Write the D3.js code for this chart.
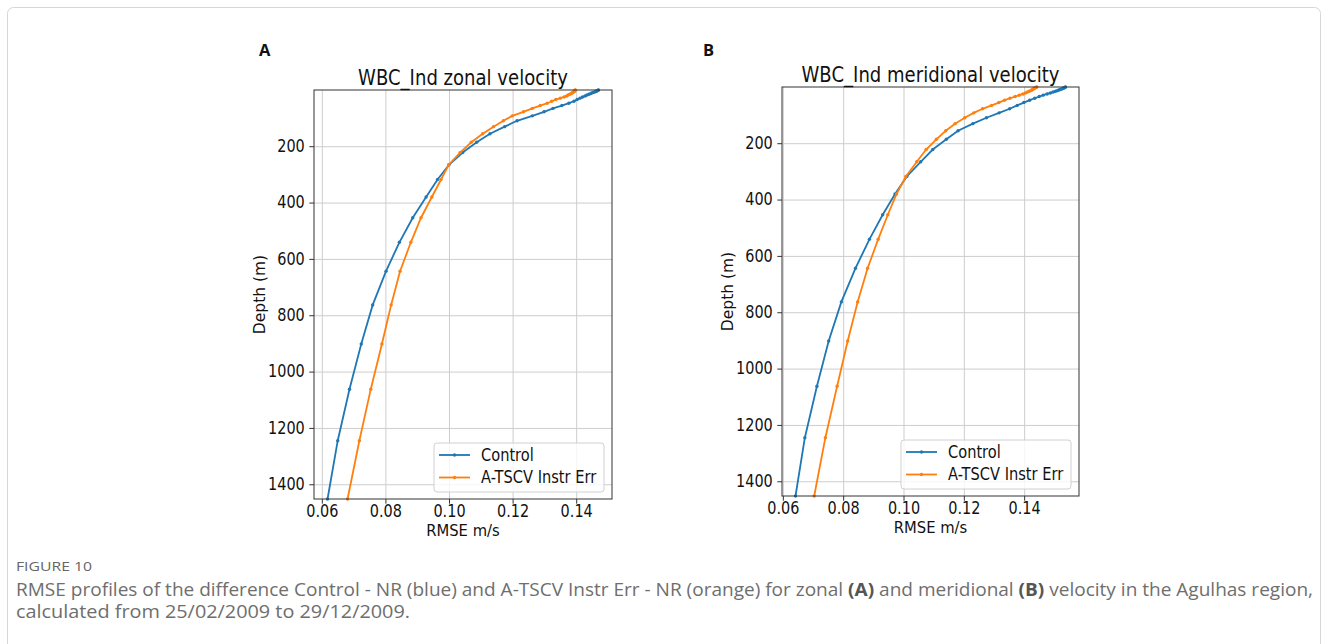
<!DOCTYPE html>
<html>
<head>
<meta charset="utf-8">
<script src="https://cdn.jsdelivr.net/npm/d3@7"></script>
<style>
  body { margin: 0; background: #fff; }
  svg { display: block; }
  .tick text { font-family: "DejaVu Sans", sans-serif; font-size: 16.8px; fill: #111; }
  .sq { transform-box: fill-box; transform: scaleX(0.86); }
  .sq-lab { transform-box: fill-box; transform: scaleX(0.925); transform-origin: center; }
  .sq-mid { transform-origin: center; }
  .sq-end { transform-origin: right; }
  .sq-start { transform-origin: left; }
</style>
</head>
<body>
<div id="chart"></div>
<script>
const SVG_W = 1328;
const SVG_H = 644;

// model levels (m)
const depths = [0.494, 1.541, 2.646, 3.819, 5.078, 6.441, 7.930, 9.573, 11.405, 13.467,
  15.810, 18.496, 21.599, 25.211, 29.445, 34.434, 40.344, 47.374, 55.764, 65.807,
  77.854, 92.326, 109.729, 130.666, 155.851, 186.126, 222.475, 266.040, 318.127, 380.213,
  453.938, 541.089, 643.567, 763.333, 902.339, 1062.440, 1245.291, 1452.251];

// RMSE zonal velocity (m/s)
const zonalControl = [0.1470, 0.1469, 0.1467, 0.1465, 0.1463, 0.1460, 0.1457, 0.1453, 0.1449, 0.1445,
  0.1440, 0.1434, 0.1428, 0.1420, 0.1412, 0.1403, 0.1393, 0.1377, 0.1355, 0.1327,
  0.1299, 0.1262, 0.1214, 0.1175, 0.1129, 0.1087, 0.1043, 0.1000, 0.0964, 0.0928,
  0.0886, 0.0844, 0.0802, 0.0760, 0.0724, 0.0687, 0.0650, 0.0618];
const zonalInstr = [0.1397, 0.1397, 0.1396, 0.1395, 0.1394, 0.1393, 0.1391, 0.1389, 0.1387, 0.1384,
  0.1380, 0.1375, 0.1370, 0.1362, 0.1350, 0.1336, 0.1323, 0.1309, 0.1287, 0.1262,
  0.1234, 0.1199, 0.1171, 0.1140, 0.1106, 0.1070, 0.1035, 0.0999, 0.0975, 0.0946,
  0.0912, 0.0880, 0.0846, 0.0818, 0.0789, 0.0754, 0.0718, 0.0681];

// RMSE meridional velocity (m/s)
const merControl = [0.1537, 0.1536, 0.1534, 0.1532, 0.1529, 0.1526, 0.1523, 0.1519, 0.1515, 0.1510,
  0.1504, 0.1496, 0.1487, 0.1476, 0.1463, 0.1450, 0.1435, 0.1418, 0.1399, 0.1377,
  0.1352, 0.1317, 0.1275, 0.1230, 0.1181, 0.1142, 0.1097, 0.1057, 0.1011, 0.0972,
  0.0931, 0.0887, 0.0841, 0.0794, 0.0752, 0.0713, 0.0673, 0.0642];
const merInstr = [0.1442, 0.1440, 0.1438, 0.1436, 0.1434, 0.1432, 0.1430, 0.1428, 0.1425, 0.1422,
  0.1417, 0.1411, 0.1404, 0.1396, 0.1384, 0.1370, 0.1353, 0.1335, 0.1316, 0.1292,
  0.1262, 0.1233, 0.1203, 0.1171, 0.1140, 0.1109, 0.1075, 0.1044, 0.1008, 0.0977,
  0.0948, 0.0916, 0.0881, 0.0848, 0.0815, 0.0780, 0.0741, 0.0704];

const seriesNames = ["Control", "A-TSCV Instr Err"];
const seriesColors = ["#1f77b4", "#ff7f0e"];
const xTickValues = [0.06, 0.08, 0.10, 0.12, 0.14];
const yTickValues = [200, 400, 600, 800, 1000, 1200, 1400];

const TICK = 4.7;
const FONT = '"DejaVu Sans", sans-serif';

var svg = d3.select("#chart").append("svg")
  .attr("width", SVG_W)
  .attr("height", SVG_H);

// page frame
svg.append("rect")
  .attr("x", 7.5).attr("y", 7.5)
  .attr("width", SVG_W - 15).attr("height", SVG_H + 20)
  .attr("rx", 6)
  .attr("fill", "none")
  .attr("stroke", "#d6d6d6");

var drawPanel = (p) => {
  var all = p.series[0].concat(p.series[1]);
  var lo = d3.min(all), hi = d3.max(all), pad = (hi - lo) * 0.05;

  var x = d3.scaleLinear().domain([lo - pad, hi + pad]).range([0, p.w]);
  var y = d3.scaleLinear().domain(d3.extent(depths)).range([0, p.h]);

  var g = svg.append("g").attr("transform", `translate(${p.x},${p.y})`);

  // grid
  g.append("g")
    .call(d3.axisBottom(x).tickValues(xTickValues).tickSize(p.h).tickFormat(""))
    .call(a => a.select(".domain").remove())
    .selectAll("line").attr("stroke", "#cdcdcd").attr("stroke-width", 1);
  g.append("g")
    .call(d3.axisRight(y).tickValues(yTickValues).tickSize(p.w).tickFormat(""))
    .call(a => a.select(".domain").remove())
    .selectAll("line").attr("stroke", "#cdcdcd").attr("stroke-width", 1);

  // axes
  var xa = g.append("g")
    .attr("transform", `translate(0,${p.h})`)
    .call(d3.axisBottom(x).tickValues(xTickValues).tickSize(TICK).tickPadding(1.5).tickFormat(d3.format(".2f")));
  var ya = g.append("g")
    .call(d3.axisLeft(y).tickValues(yTickValues).tickSize(TICK).tickPadding(4.5).tickFormat(d3.format("d")));
  [xa, ya].forEach(a => {
    a.select(".domain").remove();
    a.selectAll("line").attr("stroke", "#333");
  });
  xa.selectAll("text").attr("class", "sq sq-mid");
  ya.selectAll("text").attr("class", "sq sq-end");

  // series
  var line = d3.line().x(d => x(d[0])).y(d => y(d[1]));
  p.series.forEach((vals, i) => {
    var pts = vals.map((v, k) => [v, depths[k]]);
    g.append("path")
      .datum(pts)
      .attr("d", line)
      .attr("fill", "none")
      .attr("stroke", seriesColors[i])
      .attr("stroke-width", 1.8);
    g.selectAll(null)
      .data(pts)
      .enter()
      .append("circle")
      .attr("cx", d => x(d[0]))
      .attr("cy", d => y(d[1]))
      .attr("r", 1.7)
      .attr("fill", seriesColors[i]);
  });

  // spines
  g.append("rect")
    .attr("width", p.w).attr("height", p.h)
    .attr("fill", "none")
    .attr("stroke", "#333")
    .attr("stroke-width", 1);

  // legend
  var LW = 170, LH = 49;
  var lg = g.append("g").attr("transform", `translate(${p.w - 8 - LW},${p.h - 7 - LH})`);
  lg.append("rect")
    .attr("width", LW).attr("height", LH)
    .attr("rx", 3)
    .attr("fill", "#fff").attr("fill-opacity", 0.8)
    .attr("stroke", "#d0d0d0");
  seriesNames.forEach((name, i) => {
    var ry = 12 + i * 22.5;
    lg.append("line")
      .attr("x1", 5).attr("x2", 36)
      .attr("y1", ry).attr("y2", ry)
      .attr("stroke", seriesColors[i]).attr("stroke-width", 1.8);
    lg.append("circle")
      .attr("cx", 20.5).attr("cy", ry).attr("r", 1.7)
      .attr("fill", seriesColors[i]);
    lg.append("text")
      .text(name)
      .attr("class", "sq sq-start")
      .attr("x", 47).attr("y", ry + 6)
      .attr("font-family", FONT).attr("font-size", 17)
      .attr("fill", "#111");
  });

  // title + labels
  g.append("text")
    .text(p.title)
    .attr("class", "sq sq-mid")
    .attr("x", p.w / 2).attr("y", -5)
    .attr("text-anchor", "middle")
    .attr("font-family", FONT).attr("font-size", 21)
    .attr("fill", "#111");
  g.append("text")
    .text("RMSE m/s")
    .attr("class", "sq-lab")
    .attr("x", p.w / 2).attr("y", p.h + 37.5)
    .attr("text-anchor", "middle")
    .attr("font-family", FONT).attr("font-size", 16)
    .attr("fill", "#111");
  g.append("text")
    .text("Depth (m)")
    .attr("transform", `translate(-49,${p.h / 2}) rotate(-90)`)
    .attr("text-anchor", "middle")
    .attr("font-family", FONT).attr("font-size", 15.5)
    .attr("fill", "#111");

  svg.append("text")
    .text(p.letter)
    .attr("x", p.lx).attr("y", 56)
    .attr("font-family", '"Open Sans", "Liberation Sans", sans-serif')
    .attr("font-weight", "bold")
    .attr("font-size", 16.5)
    .attr("fill", "#111");
}

drawPanel({ x: 314, y: 90, w: 298, h: 409, lx: 259, letter: "A",
  title: "WBC_Ind zonal velocity", series: [zonalControl, zonalInstr] });
drawPanel({ x: 782, y: 87, w: 297, h: 409, lx: 703, letter: "B",
  title: "WBC_Ind meridional velocity", series: [merControl, merInstr] });

// caption
var CAP = '"Open Sans", sans-serif';
svg.append("text")
  .text("FIGURE 10")
  .attr("x", 16).attr("y", 571)
  .attr("font-family", CAP).attr("font-size", 13)
  .attr("textLength", 76).attr("lengthAdjust", "spacingAndGlyphs")
  .attr("fill", "#666");

var cap1 = svg.append("text")
  .attr("x", 16).attr("y", 596)
  .attr("font-family", CAP).attr("font-size", 17.5)
  .attr("textLength", 1297).attr("lengthAdjust", "spacingAndGlyphs")
  .attr("fill", "#6e6e6e");
[["RMSE profiles of the difference Control - NR (blue) and A-TSCV Instr Err - NR (orange) for zonal ", false],
 ["(A)", true], [" and meridional ", false], ["(B)", true],
 [" velocity in the Agulhas region,", false]].forEach(s => {
  cap1.append("tspan").text(s[0]).attr("font-weight", s[1] ? "bold" : null).attr("fill", s[1] ? "#555" : null);
});

svg.append("text")
  .text("calculated from 25/02/2009 to 29/12/2009.")
  .attr("x", 16).attr("y", 618)
  .attr("font-family", CAP).attr("font-size", 17.5)
  .attr("textLength", 394).attr("lengthAdjust", "spacingAndGlyphs")
  .attr("fill", "#6e6e6e");
</script>
</body>
</html>
